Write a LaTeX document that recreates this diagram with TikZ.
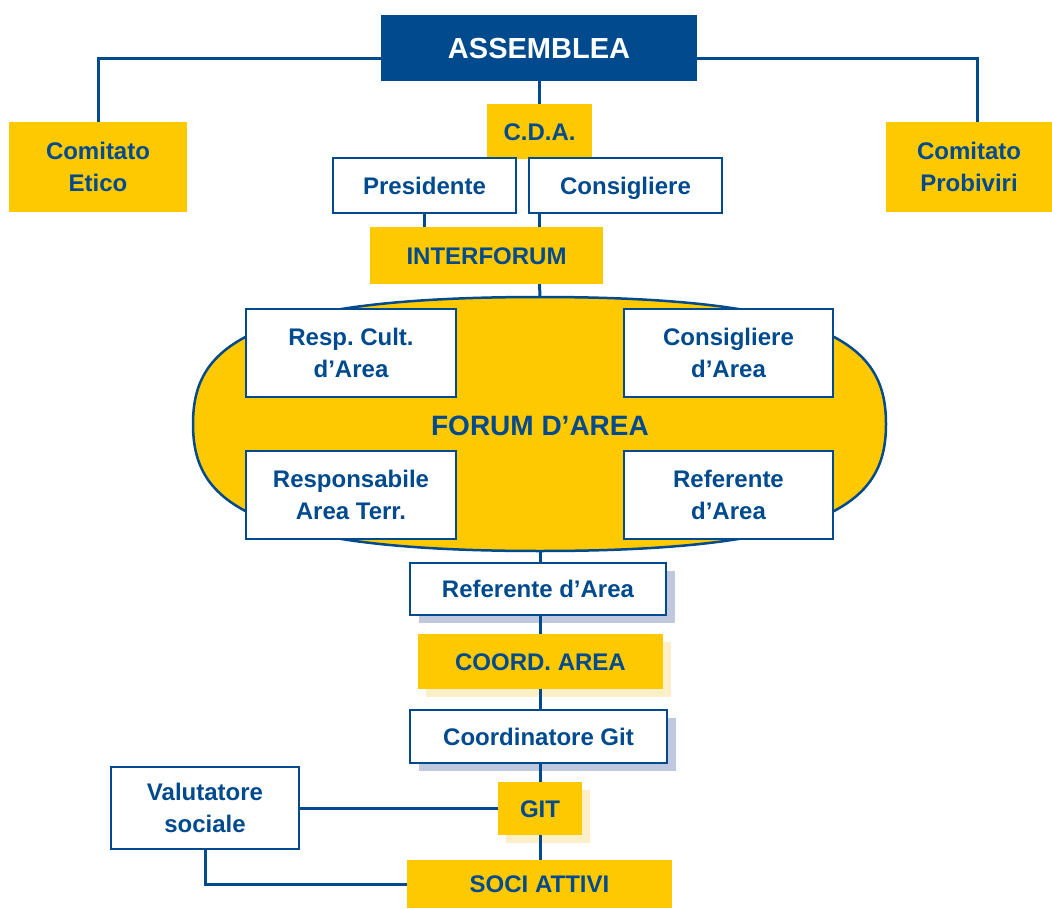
\documentclass[tikz,border=0pt]{standalone}
\usepackage{fontspec}
\setmainfont{Liberation Sans}
\frenchspacing
\usetikzlibrary{positioning,calc,shadows}
\definecolor{mainblue}{RGB}{0,74,141}
\definecolor{boxyellow}{RGB}{255,201,0}
\definecolor{shadeblue}{RGB}{192,200,222}
\definecolor{shadeyellow}{RGB}{253,239,200}

\tikzset{
  txt/.style={text=mainblue, font=\bfseries\fontsize{24}{32}\selectfont, align=center, inner sep=0pt},
  oneline/.style={text height=17.2pt, text depth=0pt},
  ybox/.style={txt, fill=boxyellow},
  wbox/.style={txt, fill=white, draw=mainblue, line width=2.8pt},
  link/.style={draw=mainblue, line width=3pt},
  bshadow/.style={drop shadow={shadow xshift=9pt, shadow yshift=-8pt, fill=shadeblue, opacity=1}},
  yshadow/.style={drop shadow={shadow xshift=8pt, shadow yshift=-8pt, fill=shadeyellow, opacity=1}},
}

\begin{document}
\begin{tikzpicture}[x=1pt, y=-1pt]
    \useasboundingbox (0,0) rectangle (1052,909);

    % Assemblea and committees
    \node[txt, fill=mainblue, text=white, font=\bfseries\fontsize{29}{34}\selectfont,
          text height=20.8pt, text depth=0pt,
          minimum width=316pt, minimum height=66pt] (assemblea) at (539,48) {ASSEMBLEA};
    \node[ybox, minimum width=178pt, minimum height=90pt] (etico) at (98,167) {Comitato\\Etico};
    \node[ybox, minimum width=166pt, minimum height=90pt] (probiviri) at (969,167) {Comitato\\Probiviri};
    \draw[link] ([yshift=-11pt]assemblea.west) -| (etico.north);
    \draw[link] ([yshift=-11pt]assemblea.east) -| ([xshift=8pt]probiviri.north);

    % C.D.A.
    \node[ybox, oneline, minimum width=105pt, minimum height=55pt] (cda) at (539.5,131.5) {C.D.A.};
    \node[wbox, oneline, minimum width=183pt, minimum height=55pt] (presidente) at (424.5,185.5) {Presidente};
    \node[wbox, oneline, minimum width=193pt, minimum height=55pt] (consigliere) at (625.5,185.5) {Consigliere};
    \node[ybox, oneline, minimum width=233pt, minimum height=57pt] (interforum) at (486.5,255.5) {INTERFORUM};
    \draw[link] (assemblea.south -| cda) -- (cda.north);
    \draw[link] (presidente.south) -- (presidente.south |- interforum.north);
    \draw[link] (consigliere.south -| cda) -- (interforum.north -| cda);

    % Forum d'Area
    \coordinate (forumtop) at (540,297);
    \coordinate (forumbot) at (540,551);
    \draw[link, line width=2.5pt, fill=boxyellow] (forumtop)
        .. controls (240,297) and (193,350) .. (193,424)
        .. controls (193,498) and (240,551) .. (forumbot)
        .. controls (840,551) and (886,498) .. (886,424)
        .. controls (886,350) and (840,297) .. (forumtop) -- cycle;
    \draw[link] (interforum.south -| cda) -- (forumtop);
    \node[txt, font=\bfseries\fontsize{28}{34}\selectfont, text height=20pt, text depth=0pt] (forum) at (540,425) {FORUM D’AREA};
    \node[wbox, minimum width=210pt, minimum height=88pt] (respcult) at (351,353) {Resp. Cult.\\d’Area};
    \node[wbox, minimum width=209pt, minimum height=88pt] (consarea) at (728.5,353) {Consigliere\\d’Area};
    \node[wbox, minimum width=210pt, minimum height=88pt] (respterr) at (351,495) {Responsabile\\Area Terr.};
    \node[wbox, minimum width=209pt, minimum height=88pt] (refarea) at (728.5,495) {Referente\\d’Area};

    % Lower chain
    \node[wbox, oneline, bshadow, minimum width=256pt, minimum height=52pt] (referente) at (538,589) {Referente d’Area};
    \node[ybox, oneline, yshadow, minimum width=245pt, minimum height=55pt] (coordarea) at (540.5,661.5) {COORD. AREA};
    \node[wbox, oneline, bshadow, minimum width=257pt, minimum height=53pt] (coordgit) at (538.5,736.5) {Coordinatore Git};
    \node[ybox, oneline, yshadow, minimum width=84pt, minimum height=53pt] (git) at (540,808.5) {GIT};
    \node[ybox, oneline, minimum width=265pt, minimum height=48pt] (soci) at (539.5,884) {SOCI ATTIVI};
    \node[wbox, minimum width=188pt, minimum height=82pt] (valutatore) at (205,808) {Valutatore\\sociale};

    \draw[link] (forumbot) -- (forumbot |- referente.north);
    \foreach \a/\b in {referente/coordarea, coordarea/coordgit, coordgit/git, git/soci} {
        \draw[link] (\a.south -| forumbot) -- (\b.north -| forumbot);
    }
    \draw[link] (valutatore.east) -- (valutatore.east -| git.west);
    \draw[link] (valutatore.south) |- (soci.west);
\end{tikzpicture}
\end{document}
